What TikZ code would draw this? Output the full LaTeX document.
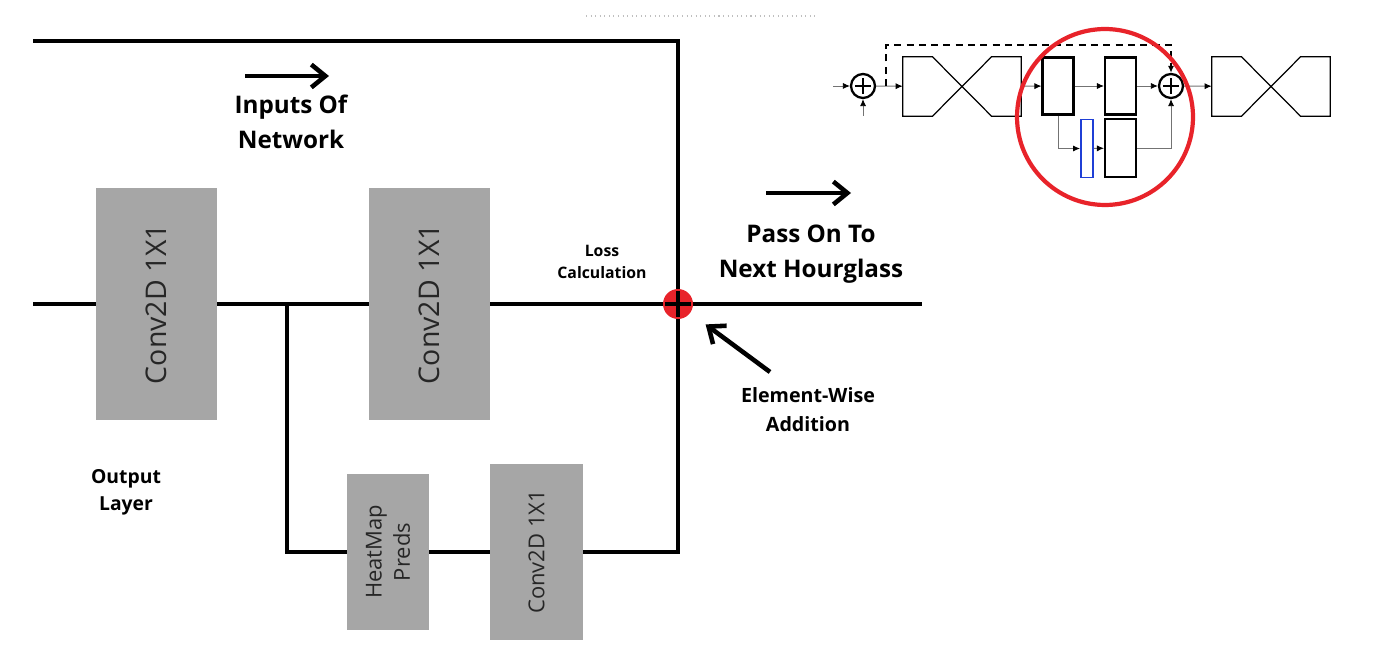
\documentclass[tikz,border=0pt]{standalone}
\usepackage{fontspec}
\setmainfont{Open Sans}
\usepackage{tikz}
\usetikzlibrary{calc,arrows.meta,positioning,shapes}

\definecolor{boxgray}{HTML}{A6A6A6}
\definecolor{addred}{HTML}{E8232A}
\definecolor{wireblue}{HTML}{1F3FD6}

% outline of one hourglass module drawn from its node
\newcommand{\hourglass}[1]{%
  \draw[glass] (#1.north west) -- ($(#1.north west)!0.25!(#1.north east)$) -- ($(#1.south west)!0.75!(#1.south east)$) -- (#1.south east) -- (#1.north east) -- ($(#1.north west)!0.75!(#1.north east)$) -- ($(#1.south west)!0.25!(#1.south east)$) -- (#1.south west) -- cycle;}

\begin{document}
\begin{tikzpicture}[x=0.02cm,y=-0.02cm,
	block/.style={fill=boxgray, rotate=90, inner sep=0pt, align=center, text=black!85},
	bigblock/.style={block, minimum width=4.64cm, minimum height=2.42cm, font=\fontsize{16.2}{19}\selectfont},
	smallblock/.style={block, font=\fontsize{12.5}{16}\selectfont},
	wire/.style={line width=2.6pt, line join=miter},
	pointer/.style={line width=2.6pt, -{Straight Barb[length=8pt,width=13pt,line width=2.6pt]}},
	label/.style={align=center, font=\bfseries\fontsize{13.8}{19.9}\selectfont},
	smalllabel/.style={align=center, font=\bfseries\fontsize{11.2}{16.3}\selectfont},
	addnode/.style={circle, fill=addred, minimum size=0.6cm, inner sep=0pt,
	  path picture={\draw[line width=2.8pt] ([yshift=-1pt]path picture bounding box.north) -- ([yshift=1pt]path picture bounding box.south);
	    \draw[line width=2.8pt] ([xshift=1pt]path picture bounding box.west) -- ([xshift=-1pt]path picture bounding box.east);}},
	sumnode/.style={circle, draw, line width=1.3pt, minimum size=0.48cm, inner sep=0pt,
	  path picture={\draw[line width=1.3pt] ([yshift=-2.5pt]path picture bounding box.north) -- ([yshift=2.5pt]path picture bounding box.south);
	    \draw[line width=1.3pt] ([xshift=2.5pt]path picture bounding box.west) -- ([xshift=-2.5pt]path picture bounding box.east);}},
	layer/.style={draw, line width=1.2pt, minimum width=0.62cm, minimum height=1.14cm, inner sep=0pt},
	glassbox/.style={minimum width=2.36cm, minimum height=1.18cm, inner sep=0pt},
	glass/.style={line width=0.7pt, line join=miter},
	thin/.style={draw=black!55, line width=0.5pt, -{Latex[length=4pt,width=3.5pt,color=black]}},
	highlight/.style={circle, draw=addred, line width=2.4pt, minimum size=3.52cm, inner sep=0pt}
	]
\useasboundingbox (0,0) rectangle (1400,665);

% faint guide at the top
\draw[black!25, dotted, line width=0.6pt] (586,16) -- (817,16);

% main network
\node [bigblock] at (156.5,304) (conva) {Conv2D 1X1};
\node [bigblock] at (429.5,304) (convb) {Conv2D 1X1};
\node [smallblock, minimum width=3.12cm, minimum height=1.64cm] at (388,552) (heat) {HeatMap\\Preds};
\node [smallblock, minimum width=3.54cm, minimum height=1.86cm] at (536.5,552) (convc) {Conv2D 1X1};
\node [addnode] at (678,304) (add) {};

\coordinate (in) at (33,304);
\coordinate (topin) at (33,41);
\coordinate (corner) at (678,41);
\coordinate (split) at (287,304);
\coordinate (splitlow) at (287,552);
\coordinate (lowcorner) at (678,552);
\coordinate (out) at (922,304);

% paths
\draw[wire] (topin) -- (corner) -- (add);
\draw[wire] (in) -- (conva);
\draw[wire] (conva) -- (convb);
\draw[wire] (convb) -- (add);
\draw[wire] (add) -- (out);
\draw[wire] (split) -- (splitlow) -- (heat);
\draw[wire] (heat) -- (convc);
\draw[wire] (convc) -- (lowcorner) -- (add);

% labels
\node [label] at (291,121.5) (inlab) {Inputs Of\\Network};
\node [label] at (811,254.5) (passlab) {Pass On To\\Next Hourglass};
\node [smalllabel] at (808,409.5) (elemlab) {Element-Wise\\Addition};
\node [align=center, font=\bfseries\fontsize{11}{15.4}\selectfont] at (126,492.5) (outlab) {Output\\Layer};
\node [align=center, font=\bfseries\fontsize{9}{12.5}\selectfont] at (602,262) (losslab) {Loss\\Calculation};

\coordinate (inS) at (245,76);
\coordinate (inE) at (329,76);
\coordinate (passS) at (766,193);
\coordinate (passE) at (851,193);
\coordinate (elemS) at (770,372);
\draw[pointer] (inS) -- (inE);
\draw[pointer] (passS) -- (passE);
\draw[pointer, shorten >=0.38cm] (elemS) -- (add);

% stacked hourglass thumbnail
\node [sumnode] at (863,86) (suma) {};
\node [glassbox] at (962,86.5) (hga) {};
\node [layer] at (1058,86) (blka) {};
\node [layer] at (1120.5,86) (blkb) {};
\node [sumnode] at (1171,86) (sumb) {};
\node [glassbox] at (1271,86.5) (hgb) {};
\node [draw=wireblue, line width=1.1pt, minimum width=0.24cm, minimum height=1.16cm, inner sep=0pt] at (1087,148.5) (heatthumb) {};
\node [layer, minimum height=1.16cm] at (1120.5,148) (blkc) {};
\hourglass{hga}
\hourglass{hgb}

\coordinate (tin) at (833,86);
\coordinate (tlow) at (863,116);
\coordinate (skip) at (886,86);
\draw[thin] (tin) -- (suma);
\draw[thin] (tlow) -- (suma);
\draw[thin] (suma) -- (hga);
\draw[dashed, line width=1pt, dash pattern=on 4pt off 3pt, -{Latex[length=4pt,width=3.5pt]}] (skip) -- ++(0,-41) -| (sumb.north);
\draw[thin] (hga) -- (blka);
\draw[thin] (blka) -- (blkb);
\draw[thin] (blkb) -- (sumb);
\draw[thin] (sumb) -- (hgb);
\draw[thin] (blka.south) |- (heatthumb.west);
\draw[thin] (heatthumb) -- (blkc);
\draw[thin] (blkc.east) -| (sumb.south);

\node [highlight] at (1105,117) (focus) {};

\end{tikzpicture}
\end{document}
